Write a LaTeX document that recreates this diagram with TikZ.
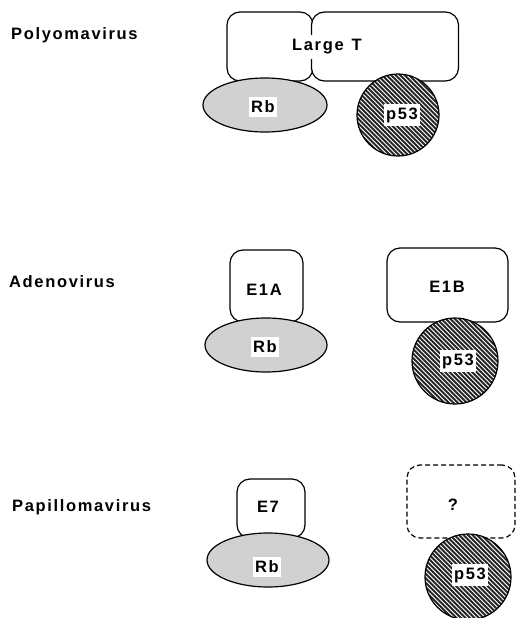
\documentclass[tikz,border=0pt]{standalone}
\usepackage{fontspec}
\setmainfont{Liberation Sans}[LetterSpace=10]
\usetikzlibrary{shapes.geometric}
\tikzset{
  txt/.style={font=\fontsize{16.5}{19}\selectfont\bfseries, inner sep=0pt},
  vlabel/.style={txt, anchor=west},
  protbox/.style={draw, line width=1.2pt, rounded corners=13pt, fill=white, inner sep=0pt},
  rbshape/.style={ellipse, draw, line width=1.2pt, fill=black!18, inner sep=0pt},
  pshape/.style={circle, draw, line width=1.2pt, fill=white, inner sep=0pt,
    path picture={\foreach \k in {-66,-61.5,...,66}{\draw[line width=2pt,black!85]
      ([xshift=\k pt-60pt, yshift=60pt]path picture bounding box.center) -- ++(120pt,-120pt);}}},
  tag/.style={txt, fill=white, inner xsep=2.5pt, inner ysep=4pt},
}
\begin{document}
\begin{tikzpicture}[x=1pt,y=-1pt]
\useasboundingbox (0,0) rectangle (516,618);
% labels
\node[vlabel] (lpoly) at (11,35) {Polyomavirus};
\node[vlabel] (ladeno) at (9,282) {Adenovirus};
\node[vlabel] (lpap) at (12,507) {Papillomavirus};
% Polyomavirus
\node[protbox, minimum width=86pt, minimum height=69pt] (ltl) at (270,46.5) {};
\node[protbox, minimum width=147pt, minimum height=69pt] (ltr) at (385,46.5) {};
\node[txt, fill=white, inner xsep=2pt, inner ysep=5pt] (ltt) at (327,47) {Large\hspace{8pt}T};
\node[rbshape, minimum width=124pt, minimum height=54pt] (rb1) at (265,105) {};
\node[pshape, minimum size=82pt] (p1) at (398,115) {};
\node[tag] (rb1t) at (263,107) {Rb};
\node[tag] (p1t) at (402,115) {p53};
% Adenovirus
\node[protbox, minimum width=73pt, minimum height=72pt] (e1a) at (266.5,286) {};
\node[rbshape, minimum width=122pt, minimum height=54pt] (rb2) at (266,345) {};
\node[txt] (e1at) at (264,290) {E1A};
\node[tag] (rb2t) at (265,347) {Rb};
\node[protbox, minimum width=121pt, minimum height=74pt] (e1b) at (447.5,285) {};
\node[txt] (e1bt) at (447,287) {E1B};
\node[pshape, minimum size=86pt] (p2) at (455,361) {};
\node[tag] (p2t) at (458,361) {p53};
% Papillomavirus
\node[protbox, minimum width=68pt, minimum height=59pt] (e7) at (271,508.5) {};
\node[rbshape, minimum width=122pt, minimum height=54pt] (rb3) at (268,560) {};
\node[txt] (e7t) at (268,507) {E7};
\node[tag] (rb3t) at (267,567) {Rb};
\node[protbox, dashed, dash pattern=on 5pt off 3pt, minimum width=108pt, minimum height=73pt] (unk) at (461,501.5) {};
\node[txt] (unkt) at (453,505) {?};
\node[pshape, minimum size=86pt] (p3) at (468,577) {};
\node[tag] (p3t) at (470,575) {p53};
\end{tikzpicture}
\end{document}
